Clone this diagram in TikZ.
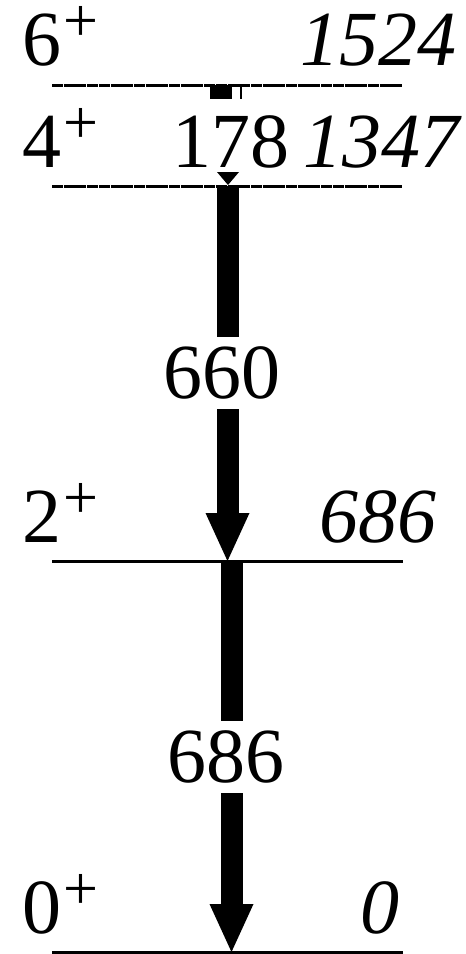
\documentclass[tikz,border=0pt]{standalone}
\usepackage{fontspec}
\setmainfont{Liberation Serif}
\usetikzlibrary{arrows.meta}
\newcommand\spl{\kern2pt\smash{\raisebox{24pt}{\fontsize{62}{62}\selectfont +}}}
\begin{document}
\begin{tikzpicture}[x=1pt,y=-1pt,
  lvl/.style={line width=3pt},
  lvldash/.style={line width=3pt, dash pattern=on 11pt off 0.7pt},
  gam/.style={line width=22pt, -{Triangle[width=44pt,length=48pt,line width=0pt]}},
  lab/.style={inner sep=0pt, font=\fontsize{78}{80}\selectfont},
  elab/.style={lab, font=\fontsize{78}{80}\selectfont\itshape},
  glab/.style={lab, fill=white, inner xsep=0pt, inner ysep=8pt, text height=53pt, text depth=3pt}]
\useasboundingbox (0,0) rectangle (466,954);
% level end points
\coordinate (l6a) at (52,85);   \coordinate (l6b) at (403,85);
\coordinate (l4a) at (52,186);  \coordinate (l4b) at (403,186);
\coordinate (l2a) at (52,561);  \coordinate (l2b) at (403,561);
\coordinate (l0a) at (52,952);  \coordinate (l0b) at (403,952);
% transitions
\coordinate (g660s) at (227.5,186); \coordinate (g660e) at (227.5,561);
\coordinate (g686s) at (231.5,561); \coordinate (g686e) at (231.5,952);
\draw[gam] (g660s) -- (g660e);
\draw[gam] (g686s) -- (g686e);
% 178 transition (visible parts)
\fill (210,85) rectangle (232,99);
\draw[line width=1.5pt] (241,85) -- (241,99);
\fill (217,172) -- (239,172) -- (228,185) -- cycle;
% levels
\draw[lvldash] (l6a) -- (l6b);
\draw[lvldash] (l4a) -- (l4b);
\draw[lvl] (l2a) -- (l2b);
\draw[lvl] (l0a) -- (l0b);
% spins
\node[lab, anchor=base west] (s6) at (22.5,65) {6\spl};
\node[lab, anchor=base west] (s4) at (22.5,167) {4\spl};
\node[lab, anchor=base west] (s2) at (22.5,542) {2\spl};
\node[lab, anchor=base west] (s0) at (22.5,933) {0\spl};
% energies
\node[elab, anchor=base east] (e6) at (457,65) {1524};
\node[elab, anchor=base east] (e4) at (460,167) {1347};
\node[elab, anchor=base east] (e2) at (437,542) {686};
\node[elab, anchor=base east] (e0) at (400,933) {0};
% gamma labels
\node[lab, anchor=base west] (t178) at (172,167) {178};
\node[glab, anchor=base] (t660) at (221.5,398) {660};
\node[glab, anchor=base] (t686) at (225.5,782) {686};
\end{tikzpicture}
\end{document}
